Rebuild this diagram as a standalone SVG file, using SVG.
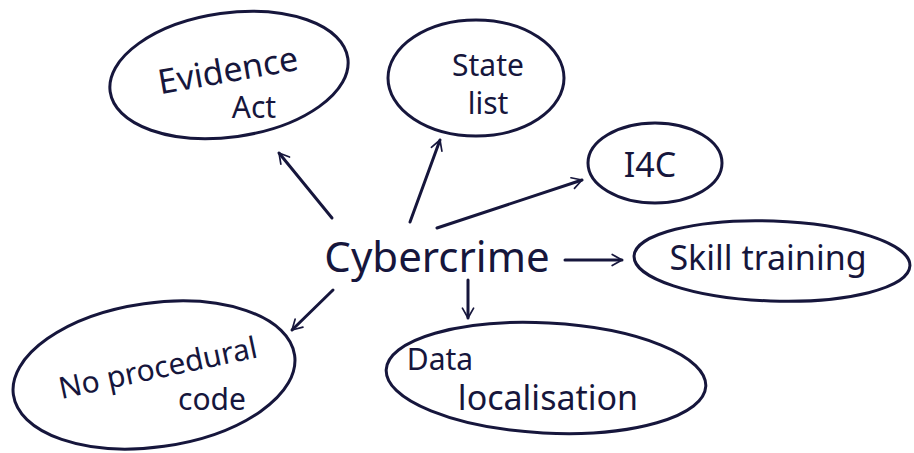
<svg xmlns="http://www.w3.org/2000/svg" width="914" height="453" viewBox="0 0 914 453">
<style>
.n{fill:none;stroke:#16163c;stroke-width:3;stroke-linecap:round;stroke-linejoin:round}
.t{font-family:"Noto Sans","Liberation Sans",sans-serif;fill:#16163c;text-anchor:middle}
.c{fill:none;stroke:#16163c;stroke-width:3;stroke-linecap:round;stroke-linejoin:round}
</style>
<defs>
<marker id="ah" viewBox="0 0 20 20" refX="16" refY="10" markerWidth="14" markerHeight="14" markerUnits="userSpaceOnUse" orient="auto">
<path d="M2,2 L16,10 L2,18" fill="none" stroke="#16163c" stroke-width="2.4" stroke-linecap="round" stroke-linejoin="round"/>
</marker>
</defs>
<rect width="914" height="453" fill="#ffffff"/>
<g id="connectors">
<line class="c" x1="332" y1="218" x2="279" y2="153" marker-end="url(#ah)"/>
<line class="c" x1="410" y1="222" x2="440" y2="140" marker-end="url(#ah)"/>
<line class="c" x1="437" y1="228" x2="582" y2="180" marker-end="url(#ah)"/>
<line class="c" x1="565" y1="260" x2="622" y2="260" marker-end="url(#ah)"/>
<line class="c" x1="468" y1="280" x2="468" y2="318" marker-end="url(#ah)"/>
<line class="c" x1="333" y1="290" x2="292" y2="330" marker-end="url(#ah)"/>
</g>
<g id="cybercrime">
<text class="t" x="437" y="272" font-size="42">Cybercrime</text>
</g>
<g id="evidence-act">
<ellipse class="n" cx="229" cy="75" rx="120" ry="62" transform="rotate(-8 229 75)"/>
<text class="t" x="230" y="82" font-size="34" transform="rotate(-10 230 82)">Evidence</text>
<text class="t" x="254" y="118" font-size="30">Act</text>
</g>
<g id="state-list">
<ellipse class="n" cx="476" cy="78" rx="88" ry="58"/>
<text class="t" x="488" y="76" font-size="30">State</text>
<text class="t" x="488" y="114" font-size="30">list</text>
</g>
<g id="i4c">
<ellipse class="n" cx="655" cy="163" rx="67" ry="40"/>
<text class="t" x="650" y="177" font-size="34">I4C</text>
</g>
<g id="skill-training">
<ellipse class="n" cx="772" cy="261" rx="138" ry="40" transform="rotate(2 772 261)"/>
<text class="t" x="768" y="270" font-size="34">Skill training</text>
</g>
<g id="data-localisation">
<ellipse class="n" cx="546" cy="378" rx="160" ry="55" transform="rotate(3 546 378)"/>
<text class="t" x="440" y="370" font-size="30">Data</text>
<text class="t" x="548" y="410" font-size="34">localisation</text>
</g>
<g id="no-procedural-code">
<ellipse class="n" cx="154" cy="375" rx="142" ry="72" transform="rotate(-8 154 375)"/>
<text class="t" x="160" y="378" font-size="30" transform="rotate(-12 160 378)">No procedural</text>
<text class="t" x="212" y="410" font-size="30">code</text>
</g>
</svg>
